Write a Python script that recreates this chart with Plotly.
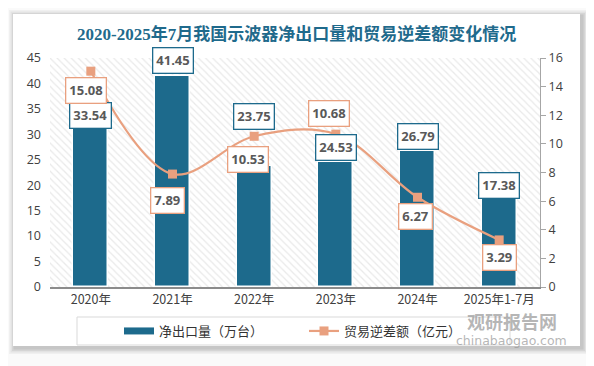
import plotly.graph_objects as go

categories = ["2020年", "2021年", "2022年", "2023年", "2024年", "2025年1-7月"]
net_export = [33.54, 41.45, 23.75, 24.53, 26.79, 17.38]
trade_deficit = [15.08, 7.89, 10.53, 10.68, 6.27, 3.29]

left_ticks = [0, 5, 10, 15, 20, 25, 30, 35, 40, 45]
right_ticks = [0, 2, 4, 6, 8, 10, 12, 14, 16]

# label offsets (px, positive = downward) for data labels
bar_label_shift = [-1, -16, -50, -15, -14, -13]
line_label_shift = [(-5, 19), (-5, 26), (-6, 23), (-7, -21), (-2, 19), (0, 18)]

BAR = "#1d6a8c"
LINE = "#e9a07f"
TXT = "#595959"

OFF = 8  # page body margin
W, H = 594 - OFF, 366 - OFF
L, T = 50 - OFF, 58 - OFF
R = W - (540 - OFF)
B = H - (287 - OFF)
pw, ph = W - L - R, H - T - B

def px(x):
    return (x - OFF - L) / pw

def py(y):
    return (H - B - (y - OFF)) / ph

fig = go.Figure()

# hatched plot background
fig.add_trace(go.Bar(
    x=categories, y=[45] * len(categories), width=1,
    marker=dict(color="white", line=dict(width=0),
                pattern=dict(shape="\\", fgcolor="#d4d4d4", bgcolor="white", size=5, solidity=0.25)),
    showlegend=False, hoverinfo="skip", yaxis="y"))

fig.add_trace(go.Bar(
    x=categories, y=net_export, width=0.43, name="净出口量（万台）", showlegend=False,
    marker=dict(color=BAR, line=dict(color="white", width=1.5)), yaxis="y"))

# legend swatch for bars
fig.add_trace(go.Scatter(
    x=[None], y=[None], mode="lines", name="净出口量（万台）",
    line=dict(color=BAR, width=7), yaxis="y"))

fig.add_trace(go.Scatter(
    x=categories, y=trade_deficit, name="贸易逆差额（亿元）", yaxis="y2",
    mode="lines+markers", line=dict(color=LINE, width=2.2, shape="spline", smoothing=1.0),
    marker=dict(symbol="square", size=9, color=LINE)))

annotations = []
for c, v, s in zip(categories, net_export, bar_label_shift):
    annotations.append(dict(
        x=c, y=v, xref="x", yref="y", text=f"<b>{v:.2f}</b>", showarrow=False,
        yanchor="middle", yshift=-s, xanchor="center",
        font=dict(size=13, color=TXT, family="Open Sans, Noto Sans CJK SC"),
        bgcolor="white", bordercolor=BAR, borderwidth=1.3, borderpad=3))
for c, v, (dx, dy) in zip(categories, trade_deficit, line_label_shift):
    annotations.append(dict(
        x=c, y=v, xref="x", yref="y2", text=f"<b>{v:.2f}</b>", showarrow=False,
        yanchor="middle", xshift=dx, yshift=-dy, xanchor="center",
        font=dict(size=13, color=TXT, family="Open Sans, Noto Sans CJK SC"),
        bgcolor="white", bordercolor=LINE, borderwidth=1.3, borderpad=3))

# title
annotations.append(dict(
    x=px(296), y=py(34), xref="paper", yref="paper", showarrow=False,
    text="<b>2020-2025年7月我国示波器净出口量和贸易逆差额变化情况</b>",
    font=dict(size=17, color="#1f6a8c", family="Liberation Serif, Noto Sans CJK SC"),
    xanchor="center", yanchor="middle"))

# watermark
annotations.append(dict(
    x=px(512), y=py(321), xref="paper", yref="paper", showarrow=False,
    text="<b>观研报告网</b>", font=dict(size=18, color="rgba(150,150,150,0.7)", family="Noto Sans CJK SC"),
    xanchor="center", yanchor="middle"))
annotations.append(dict(
    x=px(511), y=py(340), xref="paper", yref="paper", showarrow=False,
    text="chinabaogao.com", font=dict(size=12.5, color="rgba(150,150,150,0.7)", family="DejaVu Sans"),
    xanchor="center", yanchor="middle"))

shapes = []
# card shadow
for i, op in enumerate([0.04, 0.05, 0.06, 0.07]):
    d = 6 - i * 1.5
    shapes.append(dict(type="rect", xref="paper", yref="paper", layer="below",
                       x0=px(13 - d + 2), x1=px(580 + d + 2), y0=py(346 + d + 2), y1=py(14 - d + 2),
                       fillcolor=f"rgba(0,0,0,{op})", line=dict(width=0)))
shapes.append(dict(type="rect", xref="paper", yref="paper", layer="below",
                   x0=px(13), x1=px(580), y0=py(346), y1=py(14),
                   fillcolor="white", line=dict(width=0)))
# legend box
shapes.append(dict(type="rect", xref="paper", yref="paper", layer="below",
                   x0=px(77), x1=px(510), y0=py(345), y1=py(317),
                   fillcolor="rgba(0,0,0,0)", line=dict(color="#d9d9d9", width=1)))

fig.update_layout(
    width=W, height=H,
    margin=dict(l=L, r=R, t=T, b=B, autoexpand=False),
    paper_bgcolor="#fafafa", plot_bgcolor="rgba(0,0,0,0)",
    barmode="overlay", bargap=0,
    showlegend=True,
    legend=dict(orientation="h", x=px(119), y=py(331), xanchor="left", yanchor="middle",
                bgcolor="rgba(0,0,0,0)", font=dict(size=13, color="#333333", family="Noto Sans CJK SC"),
                entrywidth=140, itemwidth=30, traceorder="normal"),
    xaxis=dict(type="category", showgrid=False, showline=True, linecolor="#8c8c8c", linewidth=1.5,
               ticks="", tickfont=dict(size=12.5, color="#404040", family="Noto Sans CJK SC"),
               range=[-0.5, 5.5], fixedrange=True),
    yaxis=dict(range=[0, 45], tickvals=left_ticks, showgrid=False, zeroline=False, showline=False,
               tickfont=dict(size=12.5, color="#404040", family="Open Sans"), ticklabelstandoff=8),
    yaxis2=dict(range=[0, 16], tickvals=right_ticks, overlaying="y", side="right", showgrid=False,
                zeroline=False, showline=True, linecolor="#a6a6a6", linewidth=1.2,
                ticks="outside", ticklen=5, tickcolor="#a6a6a6",
                tickfont=dict(size=12.5, color="#404040", family="Open Sans")),
    annotations=annotations, shapes=shapes,
)

fig.write_html("out.html")
